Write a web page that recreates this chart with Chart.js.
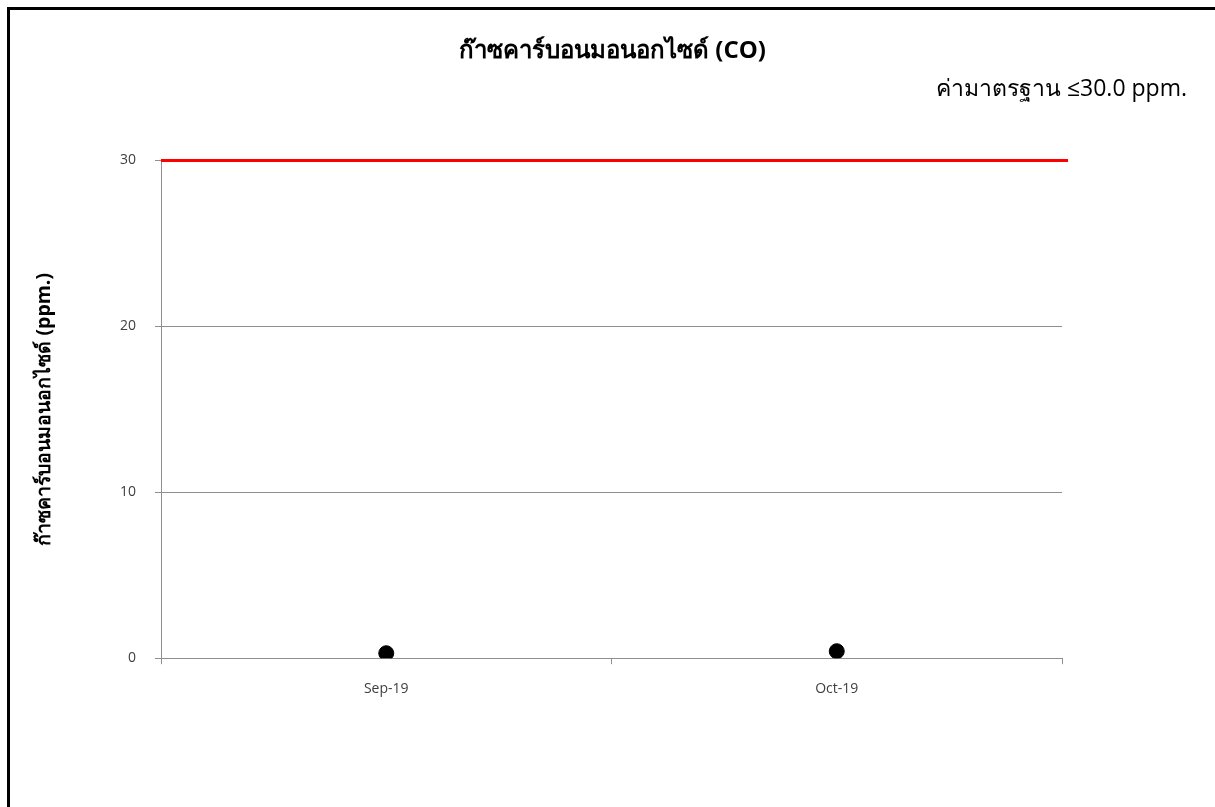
<!DOCTYPE html>
<html>
<head>
<meta charset="utf-8">
<script src="https://cdn.jsdelivr.net/npm/chart.js@4.4.1/dist/chart.umd.min.js"></script>
<style>
  html, body { margin:0; padding:0; background:#fff; overflow:hidden; }
  #frame { position:absolute; left:7px; top:7px; width:1300px; height:900px;
           border-left:3px solid #000; border-top:3px solid #000; }
  #wrap { position:absolute; left:10px; top:10px; width:1205px; height:797px; }
</style>
</head>
<body>
<div id="frame"></div>
<div id="wrap"><canvas id="c"></canvas></div>
<script>
const categories = ['Sep-19', 'Oct-19'];
const coValues = [0.3, 0.42];
const standardValue = 30;
const yTicks = [0, 10, 20, 30];
const chartTitle = 'ก๊าซคาร์บอนมอนอกไซด์ (CO)';
const chartSubtitle = 'ค่ามาตรฐาน ≤30.0 ppm.';
const yAxisTitle = 'ก๊าซคาร์บอนมอนอกไซด์ (ppm.)';

const FONT = "'Open Sans', 'Noto Sans', sans-serif";
const GRID = '#8f8f8f';

new Chart(document.getElementById('c'), {
  type: 'line',
  data: {
    labels: categories,
    datasets: [
      {
        label: 'CO',
        data: coValues,
        showLine: false,
        pointRadius: 7.5,
        pointHoverRadius: 7.5,
        pointBorderWidth: 1,
        pointBackgroundColor: '#000',
        pointBorderColor: '#000',
        borderWidth: 0,
        clip: 0,
        xAxisID: 'x',
        yAxisID: 'y'
      },
      {
        label: 'Standard',
        data: [{x: 0, y: standardValue}, {x: 1.0067, y: standardValue}],
        xAxisID: 'xLine',
        yAxisID: 'y',
        borderColor: '#ff0000',
        borderWidth: 3,
        pointRadius: 0,
        clip: false
      }
    ]
  },
  options: {
    responsive: true,
    maintainAspectRatio: false,
    animation: false,
    events: [],
    layout: { padding: { left: 28, right: 28, top: 0, bottom: 94 } },
    plugins: {
      legend: { display: false },
      tooltip: { enabled: false },
      title: {
        display: true,
        text: chartTitle,
        color: '#000',
        font: { family: FONT, size: 24, weight: 'bold' },
        padding: { top: 27, bottom: 5 }
      },
      subtitle: {
        display: true,
        text: chartSubtitle,
        align: 'end',
        color: '#000',
        font: { family: FONT, size: 23, weight: 'normal' },
        padding: { top: 5, bottom: 57 }
      }
    },
    scales: {
      x: {
        type: 'category',
        offset: true,
        grid: { display: true, drawOnChartArea: false, drawTicks: true, tickLength: 6, offset: true, color: GRID },
        border: { display: true, color: GRID, width: 1 },
        ticks: { color: '#404040', font: { family: FONT, size: 14 }, padding: 16, maxRotation: 0 }
      },
      xLine: {
        type: 'linear',
        display: false,
        min: 0,
        max: 1
      },
      y: {
        min: 0,
        max: 30,
        afterBuildTicks: (s) => { s.ticks = yTicks.map(v => ({ value: v })); },
        afterFit: (s) => { s.width = 123; },
        grid: { color: GRID, tickLength: 6, drawTicks: true },
        border: { display: true, color: GRID, width: 1 },
        ticks: { color: '#404040', font: { family: FONT, size: 14 }, padding: 19 },
        title: {
          display: true,
          text: yAxisTitle,
          color: '#000',
          font: { family: FONT, size: 19.5, weight: 'bold' },
          padding: { top: -5, bottom: 10 }
        }
      },
      yRight: {
        position: 'right',
        display: true,
        grid: { display: false },
        border: { display: false },
        ticks: { display: false },
        afterFit: (s) => { s.width = 125; }
      }
    }
  }
});
</script>
</body>
</html>
